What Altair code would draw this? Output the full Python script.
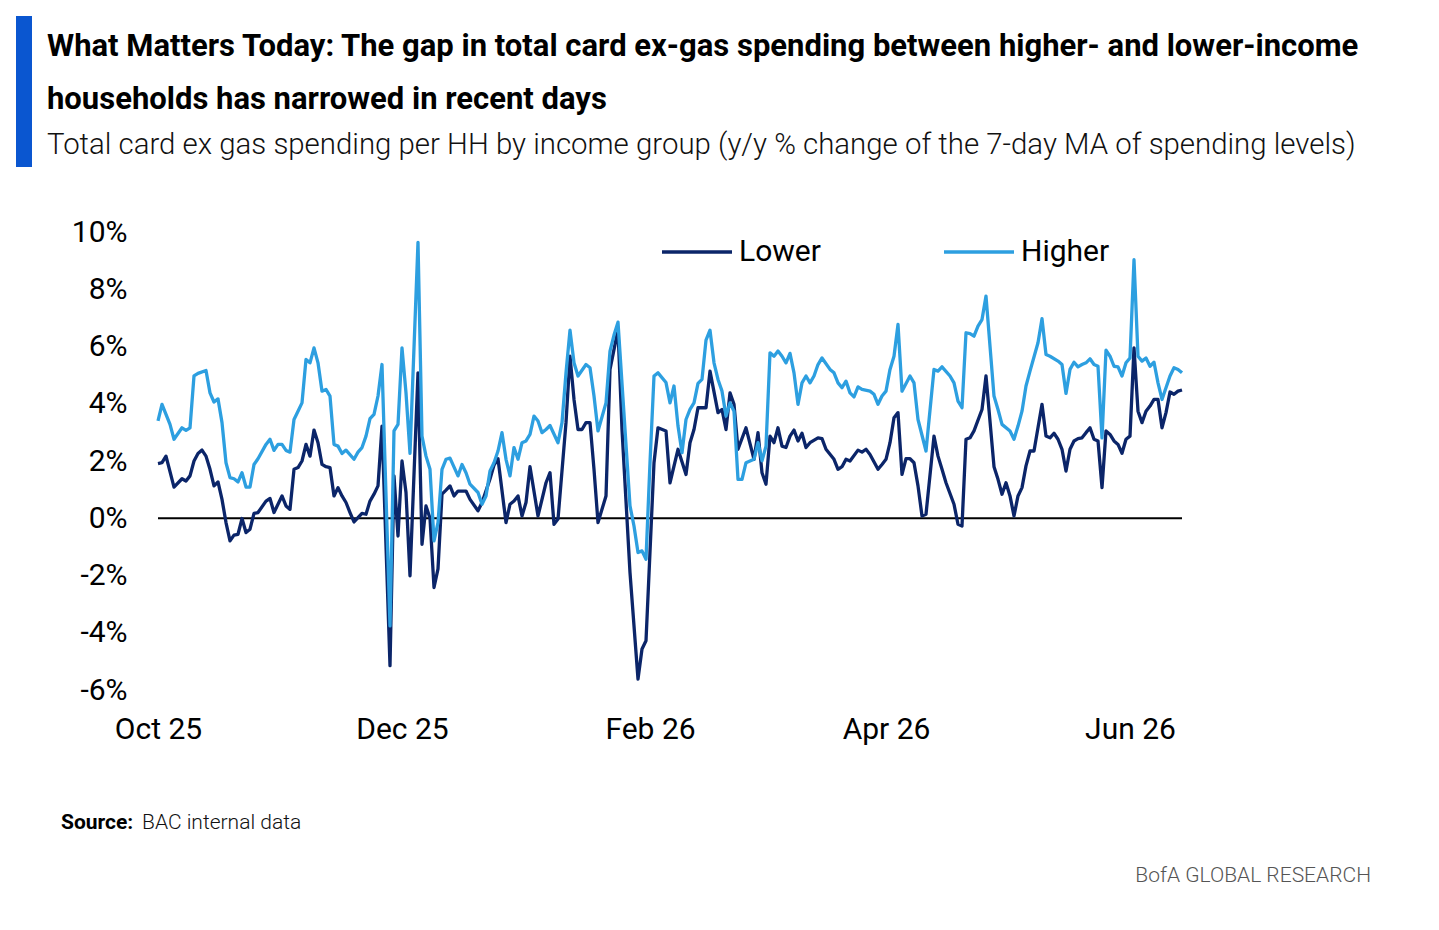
import pandas as pd
import altair as alt

# days after 2025-10-01, y/y % change of 7-day MA spending
LOWER_DAYS = [
    0, 1, 2, 4, 6, 7, 8, 9, 10, 11, 12, 13, 14, 15, 16, 17, 18, 19, 20, 21,
    22, 23, 24, 25, 27, 28, 29, 31, 32, 33, 34, 35, 36, 37, 38, 39, 40, 41, 42, 43,
    44, 45, 46, 47, 48, 49, 50, 51, 52, 53, 54, 55, 56, 58, 59, 60, 61, 62, 63, 65,
    66, 67, 68, 69, 70, 71, 72, 73, 74, 75, 76, 77, 78, 80, 81, 83, 84, 85, 87, 88,
    89, 90, 91, 92, 93, 95, 97, 98, 99, 100, 102, 103, 104, 105, 106, 107, 108, 109, 110, 112,
    113, 115, 116, 118, 120, 121, 122, 124, 125, 127, 128, 130, 132, 133, 134, 135, 137, 138, 140, 141,
    142, 143, 144, 145, 147, 149, 150, 151, 152, 153, 154, 155, 156, 157, 158, 159, 160, 161, 162, 163,
    165, 166, 167, 169, 170, 171, 172, 173, 175, 176, 177, 178, 180, 181, 182, 183, 184, 185, 186, 187,
    188, 189, 190, 191, 192, 194, 195, 196, 197, 199, 200, 201, 202, 203, 204, 206, 207, 209, 210, 211,
    212, 213, 214, 215, 216, 217, 218, 219, 221, 222, 223, 224, 225, 226, 227, 228, 229, 230, 231, 232,
    233, 234, 235, 236, 237, 238, 239, 240, 241, 242, 243, 244, 245, 246, 247, 248, 249, 250, 251, 252,
    253, 254, 255, 256,
]
LOWER_VALUES = [
    1.91, 1.94, 2.17, 1.09, 1.38, 1.30, 1.48, 2.00, 2.26, 2.38, 2.17, 1.71, 1.13, 1.27, 0.66, -0.15, -0.79, -0.59, -0.56, -0.01,
    -0.50, -0.38, 0.17, 0.20, 0.60, 0.69, 0.20, 0.78, 0.43, 0.31, 1.71, 1.77, 2.00, 2.58, 2.17, 3.08, 2.64, 1.88, 1.80, 1.77,
    0.78, 1.07, 0.78, 0.55, 0.20, -0.13, 0.02, 0.17, 0.14, 0.60, 0.84, 1.13, 3.22, -5.15, 1.48, -0.62, 2.00, 0.90, -2.01, 5.08,
    -0.91, 0.43, 0.00, -2.42, -1.77, 0.84, 0.98, 1.13, 0.78, 0.95, 0.95, 0.95, 0.66, 0.26, 0.55, 1.37, 1.86, 2.08, -0.15, 0.49,
    0.60, 0.78, 0.08, 0.55, 1.80, 0.08, 1.24, 1.59, -0.21, -0.03, 3.34, 5.66, 4.15, 3.10, 3.10, 3.34, 3.34, 1.71, -0.15, 0.78,
    5.20, 6.59, 3.10, -1.90, -5.62, -4.57, -4.28, 1.94, 3.16, 3.05, 1.24, 2.41, 1.53, 2.64, 3.10, 3.86, 3.86, 5.14, 3.69, 3.80,
    3.10, 4.38, 3.98, 2.41, 3.16, 2.06, 2.99, 1.59, 1.19, 2.87, 2.64, 3.16, 2.52, 2.47, 2.87, 3.08, 2.70, 2.97, 2.47, 2.64,
    2.81, 2.78, 2.41, 2.06, 1.71, 1.80, 2.06, 2.00, 2.38, 2.31, 2.41, 2.23, 1.71, 1.88, 2.06, 2.64, 3.51, 3.69, 1.53, 2.08,
    2.08, 1.94, 1.13, 0.08, 0.14, 2.87, 2.17, 1.71, 1.24, 0.49, -0.21, -0.27, 2.76, 2.81, 3.05, 3.80, 4.97, 1.80, 1.36, 0.84,
    1.24, 0.78, 0.08, 0.78, 1.07, 1.83, 2.35, 2.35, 3.98, 2.87, 2.81, 2.97, 2.76, 2.41, 1.65, 2.41, 2.70, 2.78, 2.81, 2.99,
    3.16, 2.76, 2.70, 1.07, 3.05, 2.93, 2.70, 2.58, 2.27, 2.76, 2.87, 5.95, 3.74, 3.34, 3.74, 3.92, 4.15, 4.15, 3.16, 3.69,
    4.41, 4.33, 4.44, 4.48,
]

HIGHER_DAYS = [
    0, 1, 2, 3, 4, 6, 7, 8, 9, 10, 12, 13, 14, 15, 16, 17, 18, 19, 20, 21,
    22, 23, 24, 25, 27, 28, 29, 30, 31, 32, 33, 34, 35, 36, 37, 38, 39, 40, 41, 42,
    43, 44, 45, 46, 47, 49, 50, 51, 52, 53, 54, 55, 56, 58, 59, 60, 61, 62, 63, 65,
    66, 67, 68, 69, 70, 71, 72, 73, 75, 76, 77, 78, 80, 81, 82, 83, 84, 85, 86, 87,
    88, 89, 90, 91, 92, 93, 94, 95, 96, 97, 98, 100, 101, 102, 103, 104, 105, 107, 108, 109,
    110, 112, 113, 114, 115, 118, 119, 120, 121, 122, 123, 124, 125, 127, 128, 129, 130, 131, 132, 133,
    134, 135, 136, 137, 138, 139, 140, 141, 142, 143, 144, 145, 146, 147, 149, 150, 151, 152, 153, 154,
    155, 156, 157, 158, 159, 160, 161, 162, 163, 164, 165, 166, 168, 169, 170, 171, 172, 173, 174, 175,
    176, 178, 179, 180, 181, 182, 183, 184, 185, 186, 188, 189, 190, 192, 194, 195, 196, 198, 199, 200,
    201, 202, 203, 204, 205, 206, 207, 209, 210, 211, 213, 214, 215, 216, 217, 218, 220, 221, 222, 223,
    225, 226, 227, 228, 229, 230, 231, 232, 233, 234, 235, 236, 237, 238, 239, 240, 241, 242, 243, 244,
    245, 246, 247, 248, 249, 250, 251, 252, 253, 254, 255, 256,
]
HIGHER_VALUES = [
    3.40, 3.98, 3.63, 3.28, 2.76, 3.16, 3.07, 3.16, 4.97, 5.06, 5.16, 4.38, 4.06, 4.17, 3.34, 1.94, 1.42, 1.38, 1.27, 1.59,
    1.09, 1.09, 1.88, 2.08, 2.58, 2.76, 2.37, 2.58, 2.58, 2.37, 2.31, 3.45, 3.74, 4.03, 5.55, 5.43, 5.95, 5.43, 4.44, 4.50,
    4.27, 2.58, 2.52, 2.26, 2.38, 2.06, 2.31, 2.47, 2.87, 3.48, 3.63, 4.27, 5.37, -3.76, 3.05, 3.28, 5.95, 4.38, 2.27, 9.64,
    2.87, 2.17, 1.71, -0.79, -0.15, 1.71, 2.06, 2.10, 1.48, 1.88, 1.59, 1.19, 0.90, 0.49, 0.78, 1.65, 1.94, 2.35, 2.99, 2.06,
    1.48, 2.47, 2.06, 2.64, 2.70, 2.93, 3.57, 3.40, 2.99, 3.10, 3.24, 2.64, 3.34, 5.08, 6.57, 5.43, 4.97, 5.37, 5.26, 4.27,
    3.05, 4.03, 5.84, 6.40, 6.85, 0.43, -0.27, -1.20, -1.14, -1.43, 1.94, 4.97, 5.08, 4.74, 4.03, 4.62, 3.22, 2.29, 3.45, 3.80,
    4.03, 4.71, 4.85, 6.22, 6.57, 5.43, 4.85, 4.44, 3.57, 4.03, 3.74, 1.36, 1.36, 1.94, 2.06, 2.64, 2.01, 2.52, 5.78, 5.66,
    5.84, 5.66, 5.43, 5.76, 5.08, 3.98, 4.73, 4.97, 4.73, 4.97, 5.37, 5.60, 5.20, 5.08, 4.73, 4.56, 4.79, 4.38, 4.24, 4.59,
    4.50, 4.44, 4.33, 3.98, 4.27, 4.44, 5.20, 5.66, 6.77, 4.44, 4.97, 4.73, 3.45, 2.35, 5.20, 5.14, 5.29, 4.97, 4.73, 4.09,
    3.86, 6.48, 6.45, 6.36, 6.71, 6.94, 7.76, 4.27, 3.80, 3.28, 3.05, 2.76, 3.22, 3.74, 4.62, 5.14, 6.13, 6.97, 5.72, 5.66,
    5.49, 5.37, 4.36, 5.20, 5.45, 5.29, 5.37, 5.43, 5.57, 5.37, 5.31, 2.81, 5.87, 5.66, 5.31, 5.29, 4.97, 5.43, 5.60, 9.03,
    5.66, 5.49, 5.60, 5.31, 5.45, 4.73, 4.15, 4.56, 4.97, 5.26, 5.20, 5.08,
]

GROUPS = ["Lower", "Higher"]
COLORS = ["#0b2569", "#2d9fe0"]
Y_TICKS = [-6, -4, -2, 0, 2, 4, 6, 8, 10]

TITLE_1 = "What Matters Today: The gap in total card ex-gas spending between higher- and lower-income"
TITLE_2 = "households has narrowed in recent days"
SUBTITLE = "Total card ex gas spending per HH by income group (y/y % change of the 7-day MA of spending levels)"

FONT = "Roboto, Liberation Sans, sans-serif"

START = pd.Timestamp("2025-10-01")
PLOT_WIDTH = 1024
PLOT_HEIGHT = 458


def make_frame(days, values, group):
    return pd.DataFrame({
        "date": START + pd.to_timedelta(days, unit="D"),
        "value": values,
        "group": group,
    })


df = pd.concat([
    make_frame(LOWER_DAYS, LOWER_VALUES, "Lower"),
    make_frame(HIGHER_DAYS, HIGHER_VALUES, "Higher"),
], ignore_index=True)

x_ticks = [alt.DateTime(year=y, month=m, date=1) for y, m in
           [(2025, 10), (2025, 12), (2026, 2), (2026, 4), (2026, 6)]]
x_domain = [alt.DateTime(year=2025, month=10, date=1), alt.DateTime(year=2026, month=6, date=14)]

lines = (
    alt.Chart(df)
    .mark_line(strokeWidth=3.3, strokeJoin="round")
    .encode(
        x=alt.X("date:T", scale=alt.Scale(domain=x_domain), title="",
                axis=alt.Axis(values=x_ticks, format="%b %y", labelPadding=24, labelFlush=False)),
        y=alt.Y("value:Q", scale=alt.Scale(domain=[-6, 10], nice=False, zero=False), title="",
                axis=alt.Axis(values=Y_TICKS, labelExpr="datum.value + '%'", labelPadding=31)),
        color=alt.Color("group:N", scale=alt.Scale(domain=GROUPS, range=COLORS), title="",
                        legend=alt.Legend(orient="none", legendX=502, legendY=-17, direction="horizontal",
                                          symbolType="stroke", symbolSize=4900, symbolStrokeWidth=3.5,
                                          labelFontSize=30, labelFont=FONT, labelColor="#000",
                                          labelOffset=5, columnPadding=116, labelLimit=300)),
    )
)

zero = alt.Chart(pd.DataFrame({"v": [0]})).mark_rule(color="#000", strokeWidth=2).encode(y="v:Q")


def label(text, x, y, size, weight="normal", color="#000", align="left"):
    return (
        alt.Chart(pd.DataFrame({"t": [text]}))
        .mark_text(align=align, baseline="alphabetic", fontSize=size, fontWeight=weight,
                   color=color, font=FONT)
        .encode(text="t:N", x=alt.value(x), y=alt.value(y))
    )


bar = (
    alt.Chart(pd.DataFrame({"t": [""]}))
    .mark_rect(color="#0a56d0")
    .encode(x=alt.value(-142), x2=alt.value(-126), y=alt.value(-216), y2=alt.value(-65))
)

texts = [
    label(TITLE_1, -111, -176, 31, weight="bold"),
    label(TITLE_2, -111, -123, 31, weight="bold"),
    label(SUBTITLE, -111, -78, 29.4, weight=300, color="#111"),
    label("Source:", -97, 597, 21, weight="bold"),
    label("BAC internal data", -16, 597, 21, weight=300, color="#111"),
    label("BofA GLOBAL RESEARCH", 1213, 650, 21, weight=300, color="#555", align="right"),
]

chart = (
    alt.layer(bar, zero, lines, *texts)
    .properties(
        width=PLOT_WIDTH,
        height=PLOT_HEIGHT,
        autosize="none",
        padding={"left": 150, "top": 224, "right": 249, "bottom": 224},
    )
    .configure_view(stroke=None)
    .configure_axis(domain=False, ticks=False, grid=False, labelFont=FONT,
                    labelFontSize=30, labelColor="#000")
)

chart.save("out.html", embed_options={"renderer": "svg", "actions": False})
